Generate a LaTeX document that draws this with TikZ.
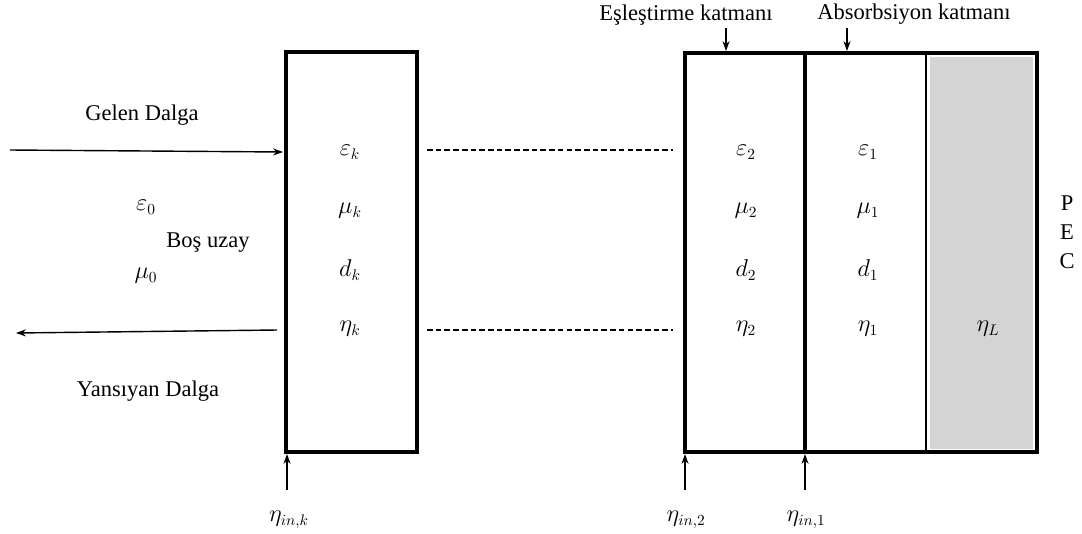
\documentclass[tikz,border=0pt]{standalone}
\usepackage{fontspec}
\setmainfont{Liberation Serif}
\usetikzlibrary{arrows.meta}

\tikzset{
  wall/.style={line width=2.2pt},
  thinwall/.style={line width=1pt},
  ray/.style={line width=1pt, -{Stealth[length=7pt,width=5pt]}},
  gap/.style={line width=1pt, dash pattern=on 4pt off 2.2pt},
  lbl/.style={font=\fontsize{16}{20.5}\selectfont, inner sep=0pt},
}

\begin{document}
\begin{tikzpicture}[x=0.025cm, y=-0.025cm]
  %%%%% FRAME %%%%%
  \useasboundingbox (0,0) rectangle (1082,533);

  %%%%% FREE SPACE %%%%%
  \node[lbl] (gelen) at (142,115) {Gelen Dalga};
  \node[lbl] (yansiyan) at (148,391) {Yansıyan Dalga};
  \node[lbl] (eps0) at (146,207) {$\varepsilon_0$};
  \node[lbl] (bos) at (208,243) {Boş uzay};
  \node[lbl] (mu0) at (146,276) {$\mu_0$};

  \coordinate (incstart) at (10,150);
  \coordinate (incend) at (283,152);
  \draw[ray] (incstart) -- (incend);
  \coordinate (refstart) at (277,330);
  \coordinate (refend) at (16,333);
  \draw[ray] (refstart) -- (refend);

  %%%%% LAYER K %%%%%
  \draw[wall] (286,52) rectangle (417,452);
  \node[lbl] (epsk) at (350,152) {$\varepsilon_k$};
  \node[lbl] (muk) at (350,211) {$\mu_k$};
  \node[lbl] (dk) at (350,270) {$d_k$};
  \node[lbl] (etak) at (350,329) {$\eta_k$};

  \coordinate (gapAl) at (427,150);
  \coordinate (gapAr) at (673,150);
  \draw[gap] (gapAl) -- (gapAr);
  \coordinate (gapBl) at (427,330);
  \coordinate (gapBr) at (673,330);
  \draw[gap] (gapBl) -- (gapBr);

  %%%%% LAYERS 2, 1 AND LOAD %%%%%
  \fill[black!17] (930,57) rectangle (1033,449);
  \draw[wall] (685,53) rectangle (1037,452);
  \draw[wall] (805,53) -- (805,452);
  \draw[thinwall] (926,53) -- (926,452);

  \node[lbl] (eps2) at (746,152) {$\varepsilon_2$};
  \node[lbl] (mu2) at (746,211) {$\mu_2$};
  \node[lbl] (d2) at (746,270) {$d_2$};
  \node[lbl] (eta2) at (746,329) {$\eta_2$};

  \node[lbl] (eps1) at (868,152) {$\varepsilon_1$};
  \node[lbl] (mu1) at (868,211) {$\mu_1$};
  \node[lbl] (d1) at (868,270) {$d_1$};
  \node[lbl] (eta1) at (868,329) {$\eta_1$};

  \node[lbl] (etaL) at (988,329) {$\eta_L$};
  \node[lbl, align=center] (pec) at (1067,232) {P\\E\\C};

  %%%%% TOP LABELS %%%%%
  \node[lbl] (esles) at (686,15) {Eşleştirme katmanı};
  \node[lbl] (absorb) at (914,14) {Absorbsiyon katmanı};
  \coordinate (eslestop) at (726,28);
  \coordinate (esleswall) at (726,51);
  \draw[ray] (eslestop) -- (esleswall);
  \coordinate (absorbtop) at (847,28);
  \coordinate (absorbwall) at (847,51);
  \draw[ray] (absorbtop) -- (absorbwall);

  %%%%% INPUT IMPEDANCES %%%%%
  \node[lbl] (etaink) at (289,520) {$\eta_{in,k}$};
  \node[lbl] (etain2) at (686,520) {$\eta_{in,2}$};
  \node[lbl] (etain1) at (806,520) {$\eta_{in,1}$};
  \coordinate (inkfoot) at (287,490);
  \coordinate (inkwall) at (287,454);
  \draw[ray] (inkfoot) -- (inkwall);
  \coordinate (in2foot) at (685,490);
  \coordinate (in2wall) at (685,454);
  \draw[ray] (in2foot) -- (in2wall);
  \coordinate (in1foot) at (805,490);
  \coordinate (in1wall) at (805,454);
  \draw[ray] (in1foot) -- (in1wall);
\end{tikzpicture}
\end{document}
